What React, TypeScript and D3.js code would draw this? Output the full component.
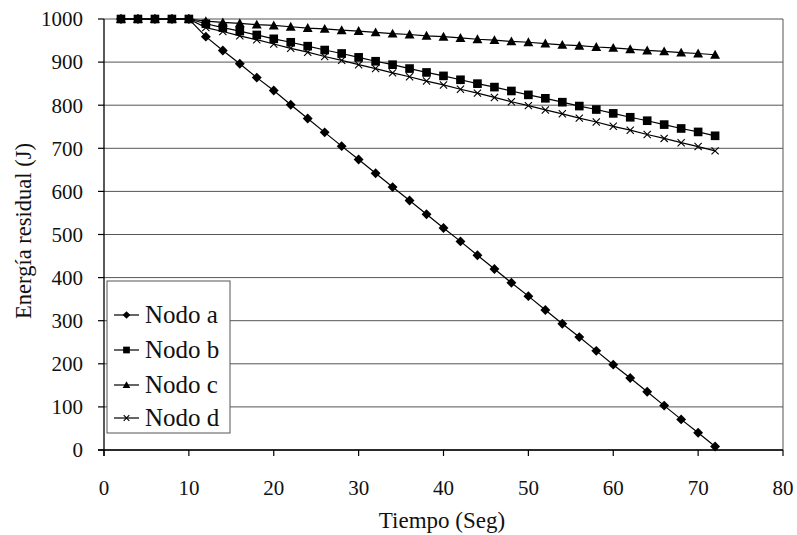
import React from "react";
import * as d3 from "d3";

const times = [2,4,6,8,10,12,14,16,18,20,22,24,26,28,30,32,34,36,38,40,42,44,46,48,50,52,54,56,58,60,62,64,66,68,70,72];
const nodoA = [1000,1000,1000,1000,1000,959,927,896,864,834,801,769,737,705,674,642,610,579,547,515,484,452,420,388,357,325,293,262,230,198,167,135,103,71,40,8];
const nodoB = [1000,1000,1000,1000,1000,989,980,972,963,954,946,937,928,920,911,902,894,885,876,868,859,850,842,833,824,816,807,798,790,781,772,764,755,746,738,729];
const nodoC = [1000,1000,1000,1000,1000,995,992,990,987,985,982,979,977,974,972,969,966,964,961,959,956,953,951,948,946,943,940,938,935,933,930,927,925,922,920,917];
const nodoD = [1000,1000,1000,1000,1000,980,971,961,952,942,932,923,913,904,894,885,875,866,856,847,837,828,818,808,799,789,780,770,761,751,742,732,723,713,704,694];
const seriesNames = ["Nodo a", "Nodo b", "Nodo c", "Nodo d"];
const markerKinds = ["diamond", "square", "triangle", "x"];
const xTicks = [0,10,20,30,40,50,60,70,80];
const yTicks = [0,100,200,300,400,500,600,700,800,900,1000];

const FONT = "Liberation Serif, DejaVu Serif, Noto Serif, Times New Roman, serif";

function Marker({ kind, x, y, s }: { kind: string; x: number; y: number; s: number }) {
  if (kind === "diamond") {
    const r = s * 0.55;
    return <path d={`M${x},${y - r}L${x + r},${y}L${x},${y + r}L${x - r},${y}Z`} fill="#000" />;
  }
  if (kind === "square") {
    const r = s * 0.48;
    return <rect x={x - r} y={y - r} width={2 * r} height={2 * r} fill="#000" />;
  }
  if (kind === "triangle") {
    const r = s * 0.55;
    return <path d={`M${x},${y - r}L${x + r},${y + r * 0.8}L${x - r},${y + r * 0.8}Z`} fill="#000" />;
  }
  const r = s * 0.4;
  return (
    <path d={`M${x - r},${y - r}L${x + r},${y + r}M${x - r},${y + r}L${x + r},${y - r}`} stroke="#000" strokeWidth={1.1} fill="none" />
  );
}

export default function App() {
  const W = 797, H = 535;
  const left = 104, right = 783, top = 19, bottom = 450;
  const x = d3.scaleLinear().domain([0, 80]).range([left, right]);
  const y = d3.scaleLinear().domain([0, 1000]).range([bottom, top]);
  const all = [nodoA, nodoB, nodoC, nodoD];
  const line = d3.line<[number, number]>().x(d => x(d[0])).y(d => y(d[1]));

  const legX = 107, legY = 281, legW = 123, legH = 152;
  const rowY = [315, 350, 385, 418];
  const txt = { fontFamily: FONT, fill: "#111" } as React.CSSProperties;

  return (
    <svg width={W} height={H} style={{ position: "absolute", left: 0, top: 0, background: "#fff" }}>
      <rect x={0} y={0} width={W} height={H} fill="#fff" />
      {yTicks.map(t => (
        <line key={"g" + t} x1={left} x2={right} y1={y(t)} y2={y(t)} stroke="#555" strokeWidth={1} />
      ))}
      <line x1={right} x2={right} y1={top} y2={bottom} stroke="#555" strokeWidth={1} />
      <line x1={left} x2={left} y1={top} y2={bottom + 6} stroke="#000" strokeWidth={1.3} />
      <line x1={left - 6} x2={right} y1={bottom} y2={bottom} stroke="#000" strokeWidth={1.3} />
      {yTicks.map(t => (
        <g key={"yt" + t}>
          <line x1={left - 6} x2={left} y1={y(t)} y2={y(t)} stroke="#000" strokeWidth={1.2} />
          <text x={83} y={y(t)} dy="0.35em" textAnchor="end" style={{ ...txt, fontSize: 21 }}>{t}</text>
        </g>
      ))}
      {xTicks.map(t => (
        <g key={"xt" + t}>
          <line x1={x(t)} x2={x(t)} y1={bottom} y2={bottom + 6} stroke="#000" strokeWidth={1.2} />
          <text x={x(t)} y={495} textAnchor="middle" style={{ ...txt, fontSize: 21 }}>{t}</text>
        </g>
      ))}
      <text x={442} y={528} textAnchor="middle" style={{ ...txt, fontSize: 23 }}>Tiempo (Seg)</text>
      <text transform={`translate(31,231) rotate(-90)`} textAnchor="middle" style={{ ...txt, fontSize: 22.5 }}>Energía residual (J)</text>

      {all.map((vals, i) => {
        const pts = times.map((t, j) => [t, vals[j]] as [number, number]);
        return (
          <g key={"s" + i}>
            <path d={line(pts) || ""} fill="none" stroke="#000" strokeWidth={1.2} />
            {pts.map((p, j) => (
              <Marker key={j} kind={markerKinds[i]} x={x(p[0])} y={y(p[1])} s={9} />
            ))}
          </g>
        );
      })}

      <rect x={legX} y={legY} width={legW} height={legH} fill="#fff" stroke="#555" strokeWidth={1} />
      {seriesNames.map((n, i) => (
        <g key={"l" + i}>
          <line x1={114} x2={139} y1={rowY[i]} y2={rowY[i]} stroke="#000" strokeWidth={1.2} />
          <Marker kind={markerKinds[i]} x={126.5} y={rowY[i]} s={7} />
          <text x={145} y={rowY[i]} dy="0.33em" style={{ ...txt, fontSize: 25 }}>{n}</text>
        </g>
      ))}
    </svg>
  );
}
